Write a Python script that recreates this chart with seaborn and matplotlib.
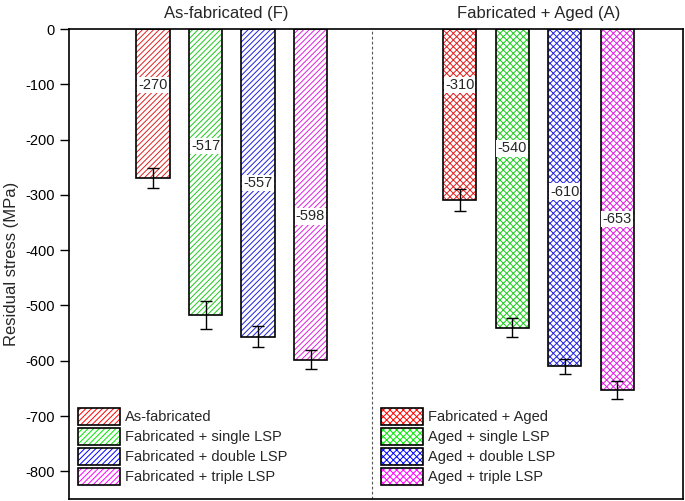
import numpy as np
import pandas as pd
import matplotlib.pyplot as plt
import seaborn as sns
from matplotlib.patches import Patch
from matplotlib.legend_handler import HandlerTuple

# data
labels_f = ["As-fabricated", "Fabricated + single LSP", "Fabricated + double LSP", "Fabricated + triple LSP"]
labels_a = ["Fabricated + Aged", "Aged + single LSP", "Aged + double LSP", "Aged + triple LSP"]
stress_f = [-270, -517, -557, -598]
stress_a = [-310, -540, -610, -653]
err_f = [18, 25, 19, 17]
err_a = [20, 17, 14, 16]
group_titles = ["As-fabricated (F)", "Fabricated + Aged (A)"]
yticks = [0, -100, -200, -300, -400, -500, -600, -700, -800]

colors = ["#ff0000", "#00e600", "#0000ff", "#ff00ff"]

# layout
gap = 5.84
pos = list(np.arange(4)) + list(np.arange(4) + gap)
label_y = [-101, -211, -279, -339, -101, -216, -294, -344]
split_x = 4.17
bar_w = 0.63
hatch_f = "//////"
hatch_a = "xxxxx"

df = pd.DataFrame({
    "pos": pos,
    "stress": stress_f + stress_a,
    "err": err_f + err_a,
    "label": labels_f + labels_a,
})

sns.set_theme(style="ticks")
plt.rcParams["font.family"] = ["Liberation Sans", "DejaVu Sans"]
plt.rcParams["hatch.linewidth"] = 0.7
plt.rcParams["axes.unicode_minus"] = False

fig = plt.figure(figsize=(6.85, 5.01), dpi=100)
ax = fig.add_axes([69 / 685, 1 - 499 / 501, 614 / 685, 470 / 501])

pal = dict(zip(labels_f + labels_a, colors + colors))
sns.barplot(data=df, x="pos", y="stress", hue="label", hue_order=labels_f + labels_a,
            palette=pal, native_scale=True, dodge=False, width=bar_w,
            errorbar=None, legend=False, ax=ax)
for p in ax.patches:
    c = p.get_facecolor()
    xc = p.get_x() + p.get_width() / 2
    p.set_facecolor("white")
    p.set_edgecolor(c)
    p.set_linewidth(0)
    p.set_hatch(hatch_f if xc < split_x else hatch_a)

# black outlines on top
sns.barplot(data=df, x="pos", y="stress", native_scale=True, width=bar_w,
            errorbar=None, fill=False, color="black", linewidth=1.2, ax=ax)

ax.errorbar(df["pos"], df["stress"], yerr=df["err"], fmt="none", ecolor="black",
            elinewidth=1, capsize=4.5, capthick=1, zorder=5)

for x, y, v in zip(df["pos"], label_y, df["stress"]):
    ax.text(x, y, f"{v}", ha="center", va="center", fontsize=10.5, zorder=6,
            bbox=dict(boxstyle="square,pad=0.08", facecolor="white", edgecolor="none"))

ax.axvline(split_x, color="#555555", linestyle=(0, (2.5, 2)), linewidth=0.8)

ax.set_xlim(-1.6, -1.6 + 614 / 52.5)
ax.set_ylim(-850, 0)
ax.set_yticks(yticks)
ax.set_xticks([])
ax.set_xlabel("")
ax.set_ylabel("Residual stress (MPa)", fontsize=12, labelpad=4)
ax.tick_params(axis="y", direction="out", length=6.5, width=1, labelsize=10.5, pad=4, colors="black")
for s in ax.spines.values():
    s.set_visible(True)
    s.set_linewidth(1.2)
    s.set_color("black")

ax.text(1.4, 1.034, group_titles[0], transform=ax.get_xaxis_transform(),
        ha="center", va="center", fontsize=12)
ax.text(7.35, 1.034, group_titles[1], transform=ax.get_xaxis_transform(),
        ha="center", va="center", fontsize=12)


def make_handles(hatch):
    hs = []
    for c in colors:
        h1 = Patch(facecolor="white", edgecolor=c, linewidth=0, hatch=hatch)
        h2 = Patch(facecolor="none", edgecolor="black", linewidth=1.2)
        hs.append((h1, h2))
    return hs


leg_kw = dict(loc="lower left", frameon=False, fontsize=10.5, handlelength=2.9,
              handleheight=1.37, labelspacing=0.24, borderpad=0, handletextpad=0.35,
              borderaxespad=0, handler_map={tuple: HandlerTuple(ndivide=1)})
leg1 = ax.legend(make_handles(hatch_f), labels_f, bbox_to_anchor=(0.0147, 0.03), **leg_kw)
ax.add_artist(leg1)
ax.legend(make_handles(hatch_a), labels_a, bbox_to_anchor=(0.508, 0.03), **leg_kw)

fig.savefig("out.png", dpi=100)
